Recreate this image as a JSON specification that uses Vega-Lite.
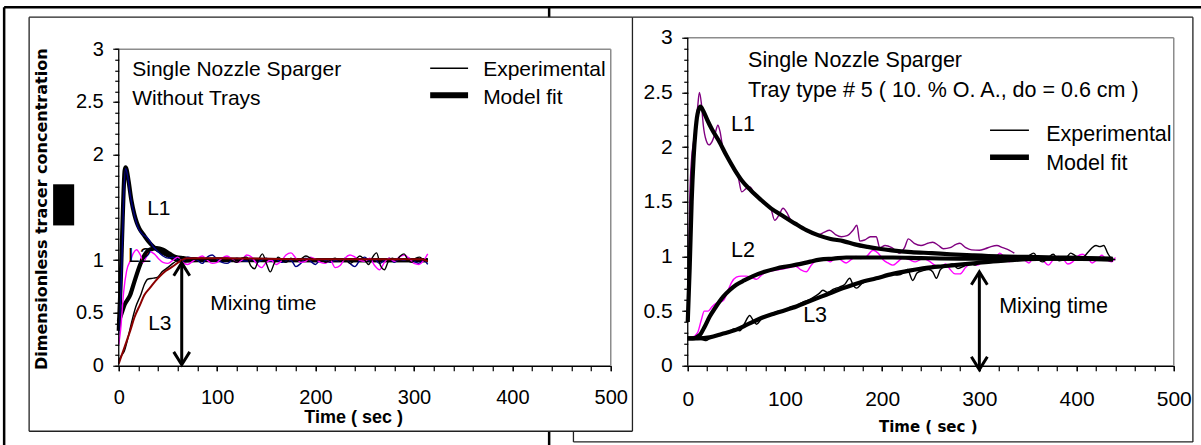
{
"$schema": "https://vega.github.io/schema/vega-lite/v6.json",
"autosize": {"type": "pad"},
"padding": {"left": 2.75, "top": 5.75, "right": 0, "bottom": 0},
"background": "white",
"bounds": "flush",
"spacing": 77,
"config": {
  "view": {"stroke": null},
  "font": "Liberation Sans",
  "axis": {"grid": false, "domainColor": "black", "tickColor": "black", "labelColor": "black", "titleColor": "black", "labelFont": "Liberation Sans", "titleFont": "Liberation Sans", "labelFlush": false, "labelOverlap": false, "tickWidth": 1.2, "domainWidth": 1.3}
},
"datasets": {
  "leftExp": [
    {"t":0,"c":0.3,"s":"a1e"},{"t":3,"c":0.9,"s":"a1e"},{"t":5,"c":1.6,"s":"a1e"},{"t":7,"c":1.87,"s":"a1e"},{"t":9,"c":1.8,"s":"a1e"},{"t":12,"c":1.6,"s":"a1e"},{"t":16,"c":1.42,"s":"a1e"},{"t":20,"c":1.3,"s":"a1e"},{"t":25,"c":1.24,"s":"a1e"},{"t":28,"c":1.22,"s":"a1e"},{"t":31,"c":1.19,"s":"a1e"},{"t":35,"c":1.13,"s":"a1e"},{"t":40,"c":1.08,"s":"a1e"},{"t":45,"c":1.04,"s":"a1e"},{"t":50,"c":1.02,"s":"a1e"},{"t":55,"c":1.03,"s":"a1e"},{"t":60,"c":1.0,"s":"a1e"},{"t":65,"c":0.99,"s":"a1e"},{"t":70,"c":1.03,"s":"a1e"},{"t":75,"c":1.02,"s":"a1e"},{"t":80,"c":1.0,"s":"a1e"},{"t":85,"c":0.97,"s":"a1e"},{"t":90,"c":1.03,"s":"a1e"},{"t":95,"c":1.05,"s":"a1e"},{"t":100,"c":1.01,"s":"a1e"},{"t":105,"c":0.98,"s":"a1e"},{"t":110,"c":0.97,"s":"a1e"},{"t":115,"c":1.0,"s":"a1e"},{"t":120,"c":1.02,"s":"a1e"},{"t":125,"c":1.0,"s":"a1e"},{"t":130,"c":0.99,"s":"a1e"},{"t":135,"c":1.01,"s":"a1e"},{"t":140,"c":0.98,"s":"a1e"},{"t":145,"c":1.0,"s":"a1e"},{"t":150,"c":1.02,"s":"a1e"},{"t":155,"c":0.99,"s":"a1e"},{"t":160,"c":1.01,"s":"a1e"},{"t":165,"c":0.98,"s":"a1e"},{"t":170,"c":0.99,"s":"a1e"},{"t":175,"c":1.0,"s":"a1e"},{"t":180,"c":0.94,"s":"a1e"},{"t":185,"c":0.97,"s":"a1e"},{"t":190,"c":1.02,"s":"a1e"},{"t":195,"c":0.99,"s":"a1e"},{"t":200,"c":0.96,"s":"a1e"},{"t":205,"c":1.01,"s":"a1e"},{"t":210,"c":1.0,"s":"a1e"},{"t":215,"c":0.98,"s":"a1e"},{"t":220,"c":1.0,"s":"a1e"},{"t":225,"c":0.99,"s":"a1e"},{"t":230,"c":1.02,"s":"a1e"},{"t":235,"c":0.97,"s":"a1e"},{"t":240,"c":0.94,"s":"a1e"},{"t":245,"c":1.0,"s":"a1e"},{"t":250,"c":1.03,"s":"a1e"},{"t":255,"c":0.99,"s":"a1e"},{"t":260,"c":1.01,"s":"a1e"},{"t":265,"c":0.97,"s":"a1e"},{"t":270,"c":1.0,"s":"a1e"},{"t":275,"c":1.02,"s":"a1e"},{"t":280,"c":0.98,"s":"a1e"},{"t":285,"c":1.01,"s":"a1e"},{"t":290,"c":1.0,"s":"a1e"},{"t":295,"c":1.02,"s":"a1e"},{"t":300,"c":0.99,"s":"a1e"},{"t":305,"c":0.97,"s":"a1e"},{"t":310,"c":1.0,"s":"a1e"},{"t":314,"c":0.96,"s":"a1e"},
    {"t":0,"c":0.2,"s":"a2e"},{"t":2,"c":0.35,"s":"a2e"},{"t":5,"c":0.7,"s":"a2e"},{"t":8,"c":0.9,"s":"a2e"},{"t":12,"c":1.0,"s":"a2e"},{"t":15,"c":1.07,"s":"a2e"},{"t":18,"c":1.1,"s":"a2e"},{"t":22,"c":1.05,"s":"a2e"},{"t":25,"c":0.98,"s":"a2e"},{"t":28,"c":1.03,"s":"a2e"},{"t":32,"c":1.08,"s":"a2e"},{"t":36,"c":1.06,"s":"a2e"},{"t":40,"c":1.02,"s":"a2e"},{"t":45,"c":0.98,"s":"a2e"},{"t":50,"c":0.97,"s":"a2e"},{"t":55,"c":1.0,"s":"a2e"},{"t":60,"c":1.03,"s":"a2e"},{"t":65,"c":0.98,"s":"a2e"},{"t":70,"c":0.96,"s":"a2e"},{"t":75,"c":0.99,"s":"a2e"},{"t":80,"c":1.02,"s":"a2e"},{"t":85,"c":1.04,"s":"a2e"},{"t":90,"c":1.0,"s":"a2e"},{"t":95,"c":0.97,"s":"a2e"},{"t":100,"c":0.98,"s":"a2e"},{"t":105,"c":1.02,"s":"a2e"},{"t":110,"c":1.04,"s":"a2e"},{"t":115,"c":1.01,"s":"a2e"},{"t":120,"c":0.98,"s":"a2e"},{"t":125,"c":1.0,"s":"a2e"},{"t":130,"c":1.05,"s":"a2e"},{"t":135,"c":1.03,"s":"a2e"},{"t":140,"c":0.97,"s":"a2e"},{"t":145,"c":0.93,"s":"a2e"},{"t":150,"c":0.98,"s":"a2e"},{"t":155,"c":1.0,"s":"a2e"},{"t":160,"c":0.96,"s":"a2e"},{"t":165,"c":0.99,"s":"a2e"},{"t":170,"c":1.05,"s":"a2e"},{"t":175,"c":1.07,"s":"a2e"},{"t":180,"c":1.02,"s":"a2e"},{"t":185,"c":0.98,"s":"a2e"},{"t":190,"c":0.99,"s":"a2e"},{"t":195,"c":1.03,"s":"a2e"},{"t":200,"c":1.01,"s":"a2e"},{"t":205,"c":0.98,"s":"a2e"},{"t":210,"c":0.97,"s":"a2e"},{"t":215,"c":1.0,"s":"a2e"},{"t":220,"c":0.93,"s":"a2e"},{"t":225,"c":0.95,"s":"a2e"},{"t":230,"c":1.02,"s":"a2e"},{"t":235,"c":1.05,"s":"a2e"},{"t":240,"c":1.03,"s":"a2e"},{"t":245,"c":1.0,"s":"a2e"},{"t":250,"c":0.99,"s":"a2e"},{"t":255,"c":1.02,"s":"a2e"},{"t":260,"c":0.95,"s":"a2e"},{"t":265,"c":0.91,"s":"a2e"},{"t":270,"c":0.98,"s":"a2e"},{"t":275,"c":1.02,"s":"a2e"},{"t":280,"c":0.99,"s":"a2e"},{"t":285,"c":1.03,"s":"a2e"},{"t":290,"c":1.05,"s":"a2e"},{"t":295,"c":1.02,"s":"a2e"},{"t":300,"c":0.97,"s":"a2e"},{"t":305,"c":0.96,"s":"a2e"},{"t":310,"c":1.0,"s":"a2e"},{"t":314,"c":1.06,"s":"a2e"},
    {"t":0,"c":0.05,"s":"a3e"},{"t":3,"c":0.1,"s":"a3e"},{"t":5.7,"c":0.14,"s":"a3e"},{"t":9,"c":0.25,"s":"a3e"},{"t":12.5,"c":0.39,"s":"a3e"},{"t":17,"c":0.55,"s":"a3e"},{"t":22.7,"c":0.68,"s":"a3e"},{"t":26,"c":0.77,"s":"a3e"},{"t":29.4,"c":0.82,"s":"a3e"},{"t":35,"c":0.83,"s":"a3e"},{"t":39.6,"c":0.84,"s":"a3e"},{"t":44,"c":0.89,"s":"a3e"},{"t":49.7,"c":0.93,"s":"a3e"},{"t":55,"c":0.97,"s":"a3e"},{"t":60,"c":1.0,"s":"a3e"},{"t":65,"c":1.02,"s":"a3e"},{"t":70,"c":1.01,"s":"a3e"},{"t":80,"c":1.01,"s":"a3e"},{"t":90,"c":1.01,"s":"a3e"},{"t":100,"c":1.02,"s":"a3e"},{"t":110,"c":1.02,"s":"a3e"},{"t":115,"c":1.0,"s":"a3e"},{"t":120,"c":0.98,"s":"a3e"},{"t":125,"c":1.02,"s":"a3e"},{"t":130,"c":1.03,"s":"a3e"},{"t":134,"c":0.95,"s":"a3e"},{"t":138,"c":0.92,"s":"a3e"},{"t":142,"c":1.0,"s":"a3e"},{"t":146,"c":1.06,"s":"a3e"},{"t":150,"c":0.97,"s":"a3e"},{"t":154,"c":0.89,"s":"a3e"},{"t":158,"c":0.97,"s":"a3e"},{"t":162,"c":1.03,"s":"a3e"},{"t":166,"c":1.0,"s":"a3e"},{"t":170,"c":0.98,"s":"a3e"},{"t":175,"c":1.02,"s":"a3e"},{"t":180,"c":0.99,"s":"a3e"},{"t":185,"c":1.01,"s":"a3e"},{"t":190,"c":1.04,"s":"a3e"},{"t":195,"c":1.02,"s":"a3e"},{"t":200,"c":1.0,"s":"a3e"},{"t":205,"c":1.01,"s":"a3e"},{"t":210,"c":0.98,"s":"a3e"},{"t":215,"c":1.0,"s":"a3e"},{"t":220,"c":1.02,"s":"a3e"},{"t":225,"c":0.99,"s":"a3e"},{"t":230,"c":1.01,"s":"a3e"},{"t":235,"c":0.97,"s":"a3e"},{"t":240,"c":1.0,"s":"a3e"},{"t":245,"c":1.04,"s":"a3e"},{"t":250,"c":1.0,"s":"a3e"},{"t":254,"c":0.96,"s":"a3e"},{"t":258,"c":1.03,"s":"a3e"},{"t":262,"c":1.07,"s":"a3e"},{"t":266,"c":0.95,"s":"a3e"},{"t":270,"c":0.91,"s":"a3e"},{"t":274,"c":0.99,"s":"a3e"},{"t":278,"c":1.02,"s":"a3e"},{"t":282,"c":1.0,"s":"a3e"},{"t":286,"c":1.04,"s":"a3e"},{"t":290,"c":1.06,"s":"a3e"},{"t":294,"c":1.0,"s":"a3e"},{"t":298,"c":0.98,"s":"a3e"},{"t":302,"c":1.02,"s":"a3e"},{"t":306,"c":1.03,"s":"a3e"},{"t":310,"c":1.0,"s":"a3e"},{"t":314,"c":1.01,"s":"a3e"}
  ],
  "leftModel": [
    {"t":0,"c":0.33,"s":"a1m"},{"t":2,"c":0.8,"s":"a1m"},{"t":4,"c":1.4,"s":"a1m"},{"t":6,"c":1.85,"s":"a1m"},{"t":7,"c":1.88,"s":"a1m"},{"t":8,"c":1.86,"s":"a1m"},{"t":10,"c":1.75,"s":"a1m"},{"t":13,"c":1.56,"s":"a1m"},{"t":16,"c":1.43,"s":"a1m"},{"t":18.4,"c":1.355,"s":"a1m"},{"t":21,"c":1.3,"s":"a1m"},{"t":25,"c":1.245,"s":"a1m"},{"t":30,"c":1.18,"s":"a1m"},{"t":35,"c":1.13,"s":"a1m"},{"t":40,"c":1.095,"s":"a1m"},{"t":45,"c":1.07,"s":"a1m"},{"t":50,"c":1.045,"s":"a1m"},{"t":55,"c":1.02,"s":"a1m"},{"t":59,"c":1.005,"s":"a1m"},{"t":65,"c":0.995,"s":"a1m"},{"t":80,"c":1.0,"s":"a1m"},{"t":100,"c":1.0,"s":"a1m"},{"t":150,"c":1.0,"s":"a1m"},{"t":200,"c":1.0,"s":"a1m"},{"t":250,"c":1.0,"s":"a1m"},{"t":300,"c":1.0,"s":"a1m"},{"t":314,"c":1.0,"s":"a1m"},
    {"t":0,"c":0.42,"s":"a2m"},{"t":3,"c":0.5,"s":"a2m"},{"t":6,"c":0.58,"s":"a2m"},{"t":11.6,"c":0.67,"s":"a2m"},{"t":16,"c":0.8,"s":"a2m"},{"t":21.7,"c":0.957,"s":"a2m"},{"t":25,"c":1.03,"s":"a2m"},{"t":28.5,"c":1.08,"s":"a2m"},{"t":33,"c":1.105,"s":"a2m"},{"t":38.7,"c":1.115,"s":"a2m"},{"t":45,"c":1.1,"s":"a2m"},{"t":52,"c":1.06,"s":"a2m"},{"t":58,"c":1.03,"s":"a2m"},{"t":65.7,"c":1.02,"s":"a2m"},{"t":75,"c":1.01,"s":"a2m"},{"t":100,"c":1.005,"s":"a2m"},{"t":200,"c":1.0,"s":"a2m"},{"t":314,"c":1.0,"s":"a2m"}
  ],
  "leftRed": [
    {"t":0,"c":0.02,"s":"a3m"},{"t":3,"c":0.1,"s":"a3m"},{"t":6,"c":0.18,"s":"a3m"},{"t":11.6,"c":0.33,"s":"a3m"},{"t":16,"c":0.46,"s":"a3m"},{"t":21.7,"c":0.58,"s":"a3m"},{"t":26,"c":0.67,"s":"a3m"},{"t":31.9,"c":0.74,"s":"a3m"},{"t":37,"c":0.8,"s":"a3m"},{"t":42,"c":0.85,"s":"a3m"},{"t":48,"c":0.9,"s":"a3m"},{"t":55.5,"c":0.945,"s":"a3m"},{"t":62,"c":0.99,"s":"a3m"},{"t":69,"c":1.02,"s":"a3m"},{"t":80,"c":1.02,"s":"a3m"},{"t":100,"c":1.02,"s":"a3m"},{"t":150,"c":1.015,"s":"a3m"},{"t":200,"c":1.01,"s":"a3m"},{"t":250,"c":1.01,"s":"a3m"},{"t":300,"c":1.01,"s":"a3m"},{"t":308,"c":1.01,"s":"a3m"},{"t":314,"c":0.99,"s":"a3m"}
  ],
  "rightExp": [
    {"t":0,"c":0.4,"s":"b1e"},{"t":1,"c":0.9,"s":"b1e"},{"t":2,"c":1.5,"s":"b1e"},{"t":4,"c":1.9,"s":"b1e"},{"t":6,"c":2.05,"s":"b1e"},{"t":8,"c":2.2,"s":"b1e"},{"t":10,"c":2.35,"s":"b1e"},{"t":12,"c":2.5,"s":"b1e"},{"t":14,"c":2.4,"s":"b1e"},{"t":16,"c":2.2,"s":"b1e"},{"t":19,"c":2.06,"s":"b1e"},{"t":22,"c":2.02,"s":"b1e"},{"t":25,"c":2.05,"s":"b1e"},{"t":28,"c":2.12,"s":"b1e"},{"t":31,"c":2.2,"s":"b1e"},{"t":33,"c":2.15,"s":"b1e"},{"t":36,"c":2.0,"s":"b1e"},{"t":40,"c":1.92,"s":"b1e"},{"t":44,"c":1.86,"s":"b1e"},{"t":48,"c":1.8,"s":"b1e"},{"t":52,"c":1.72,"s":"b1e"},{"t":55.5,"c":1.59,"s":"b1e"},{"t":60,"c":1.62,"s":"b1e"},{"t":64,"c":1.635,"s":"b1e"},{"t":68,"c":1.58,"s":"b1e"},{"t":72,"c":1.54,"s":"b1e"},{"t":76,"c":1.52,"s":"b1e"},{"t":80,"c":1.48,"s":"b1e"},{"t":85,"c":1.45,"s":"b1e"},{"t":89.5,"c":1.33,"s":"b1e"},{"t":94,"c":1.38,"s":"b1e"},{"t":98,"c":1.44,"s":"b1e"},{"t":102,"c":1.4,"s":"b1e"},{"t":106,"c":1.33,"s":"b1e"},{"t":110,"c":1.3,"s":"b1e"},{"t":115,"c":1.28,"s":"b1e"},{"t":120,"c":1.25,"s":"b1e"},{"t":125,"c":1.22,"s":"b1e"},{"t":130,"c":1.2,"s":"b1e"},{"t":135,"c":1.2,"s":"b1e"},{"t":140,"c":1.22,"s":"b1e"},{"t":146,"c":1.24,"s":"b1e"},{"t":152,"c":1.2,"s":"b1e"},{"t":158,"c":1.18,"s":"b1e"},{"t":164,"c":1.19,"s":"b1e"},{"t":170,"c":1.24,"s":"b1e"},{"t":174,"c":1.285,"s":"b1e"},{"t":177,"c":1.14,"s":"b1e"},{"t":182,"c":1.15,"s":"b1e"},{"t":188,"c":1.18,"s":"b1e"},{"t":194,"c":1.18,"s":"b1e"},{"t":197.5,"c":1.08,"s":"b1e"},{"t":203,"c":1.1,"s":"b1e"},{"t":210,"c":1.08,"s":"b1e"},{"t":218,"c":1.03,"s":"b1e"},{"t":223,"c":1.08,"s":"b1e"},{"t":227,"c":1.16,"s":"b1e"},{"t":233,"c":1.12,"s":"b1e"},{"t":240,"c":1.1,"s":"b1e"},{"t":247,"c":1.12,"s":"b1e"},{"t":252,"c":1.13,"s":"b1e"},{"t":258,"c":1.1,"s":"b1e"},{"t":263,"c":1.07,"s":"b1e"},{"t":270,"c":1.08,"s":"b1e"},{"t":276,"c":1.11,"s":"b1e"},{"t":280,"c":1.12,"s":"b1e"},{"t":286,"c":1.08,"s":"b1e"},{"t":292,"c":1.06,"s":"b1e"},{"t":300,"c":1.056,"s":"b1e"},{"t":306,"c":1.07,"s":"b1e"},{"t":312,"c":1.09,"s":"b1e"},{"t":318,"c":1.1,"s":"b1e"},{"t":324,"c":1.08,"s":"b1e"},{"t":331,"c":1.056,"s":"b1e"},{"t":336,"c":1.03,"s":"b1e"},
    {"t":0,"c":0.25,"s":"b2e"},{"t":5,"c":0.26,"s":"b2e"},{"t":10,"c":0.3,"s":"b2e"},{"t":14,"c":0.42,"s":"b2e"},{"t":17,"c":0.5,"s":"b2e"},{"t":21,"c":0.5,"s":"b2e"},{"t":25,"c":0.54,"s":"b2e"},{"t":29,"c":0.57,"s":"b2e"},{"t":33,"c":0.58,"s":"b2e"},{"t":37,"c":0.6,"s":"b2e"},{"t":41,"c":0.68,"s":"b2e"},{"t":45,"c":0.76,"s":"b2e"},{"t":50,"c":0.81,"s":"b2e"},{"t":55,"c":0.82,"s":"b2e"},{"t":60,"c":0.82,"s":"b2e"},{"t":65,"c":0.81,"s":"b2e"},{"t":70.7,"c":0.79,"s":"b2e"},{"t":76,"c":0.83,"s":"b2e"},{"t":81,"c":0.86,"s":"b2e"},{"t":88,"c":0.87,"s":"b2e"},{"t":94,"c":0.88,"s":"b2e"},{"t":100,"c":0.89,"s":"b2e"},{"t":106,"c":0.9,"s":"b2e"},{"t":111,"c":0.91,"s":"b2e"},{"t":116,"c":0.88,"s":"b2e"},{"t":122,"c":0.86,"s":"b2e"},{"t":127,"c":0.92,"s":"b2e"},{"t":132,"c":0.96,"s":"b2e"},{"t":137,"c":0.98,"s":"b2e"},{"t":142,"c":0.97,"s":"b2e"},{"t":147,"c":0.95,"s":"b2e"},{"t":152,"c":0.99,"s":"b2e"},{"t":157,"c":0.97,"s":"b2e"},{"t":163,"c":0.94,"s":"b2e"},{"t":168,"c":0.97,"s":"b2e"},{"t":173,"c":1.0,"s":"b2e"},{"t":178,"c":0.98,"s":"b2e"},{"t":184,"c":1.0,"s":"b2e"},{"t":190.6,"c":1.056,"s":"b2e"},{"t":196,"c":1.03,"s":"b2e"},{"t":201,"c":0.97,"s":"b2e"},{"t":206,"c":0.94,"s":"b2e"},{"t":211,"c":0.92,"s":"b2e"},{"t":216,"c":0.95,"s":"b2e"},{"t":222,"c":0.99,"s":"b2e"},{"t":228,"c":0.97,"s":"b2e"},{"t":234,"c":0.95,"s":"b2e"},{"t":242,"c":0.98,"s":"b2e"},{"t":248,"c":0.96,"s":"b2e"},{"t":254,"c":0.92,"s":"b2e"},{"t":260,"c":0.9,"s":"b2e"},{"t":265,"c":0.93,"s":"b2e"},{"t":270,"c":0.88,"s":"b2e"},{"t":275,"c":0.84,"s":"b2e"},{"t":280,"c":0.84,"s":"b2e"},{"t":286,"c":0.9,"s":"b2e"},{"t":292,"c":0.94,"s":"b2e"},{"t":298,"c":0.92,"s":"b2e"},{"t":304,"c":0.96,"s":"b2e"},{"t":310,"c":0.99,"s":"b2e"},{"t":315,"c":0.97,"s":"b2e"},{"t":321,"c":1.03,"s":"b2e"},{"t":326,"c":0.99,"s":"b2e"},{"t":331,"c":0.95,"s":"b2e"},{"t":336,"c":0.98,"s":"b2e"},{"t":341,"c":1.0,"s":"b2e"},{"t":346,"c":0.97,"s":"b2e"},{"t":351,"c":0.94,"s":"b2e"},{"t":356,"c":0.99,"s":"b2e"},{"t":361,"c":1.0,"s":"b2e"},{"t":366,"c":0.96,"s":"b2e"},{"t":371,"c":0.92,"s":"b2e"},{"t":376,"c":0.97,"s":"b2e"},{"t":381,"c":1.0,"s":"b2e"},{"t":386,"c":0.98,"s":"b2e"},{"t":391,"c":0.93,"s":"b2e"},{"t":396,"c":0.95,"s":"b2e"},{"t":401,"c":1.0,"s":"b2e"},{"t":406,"c":1.02,"s":"b2e"},{"t":411,"c":0.99,"s":"b2e"},{"t":416,"c":0.94,"s":"b2e"},{"t":421,"c":0.97,"s":"b2e"},{"t":426,"c":1.01,"s":"b2e"},{"t":431,"c":0.97,"s":"b2e"},{"t":436,"c":0.95,"s":"b2e"},{"t":440,"c":0.99,"s":"b2e"},
    {"t":0,"c":0.25,"s":"b3e"},{"t":5,"c":0.26,"s":"b3e"},{"t":10,"c":0.25,"s":"b3e"},{"t":15,"c":0.24,"s":"b3e"},{"t":19,"c":0.23,"s":"b3e"},{"t":24,"c":0.26,"s":"b3e"},{"t":30,"c":0.28,"s":"b3e"},{"t":36,"c":0.29,"s":"b3e"},{"t":42,"c":0.31,"s":"b3e"},{"t":48,"c":0.34,"s":"b3e"},{"t":53.5,"c":0.32,"s":"b3e"},{"t":58,"c":0.38,"s":"b3e"},{"t":63.8,"c":0.46,"s":"b3e"},{"t":67,"c":0.42,"s":"b3e"},{"t":70.7,"c":0.38,"s":"b3e"},{"t":76,"c":0.43,"s":"b3e"},{"t":82,"c":0.46,"s":"b3e"},{"t":88,"c":0.48,"s":"b3e"},{"t":94,"c":0.5,"s":"b3e"},{"t":100,"c":0.5,"s":"b3e"},{"t":106,"c":0.54,"s":"b3e"},{"t":112,"c":0.55,"s":"b3e"},{"t":118,"c":0.58,"s":"b3e"},{"t":124,"c":0.6,"s":"b3e"},{"t":130,"c":0.63,"s":"b3e"},{"t":135,"c":0.66,"s":"b3e"},{"t":139,"c":0.69,"s":"b3e"},{"t":144,"c":0.67,"s":"b3e"},{"t":150,"c":0.7,"s":"b3e"},{"t":156,"c":0.72,"s":"b3e"},{"t":161,"c":0.74,"s":"b3e"},{"t":166.7,"c":0.8,"s":"b3e"},{"t":170,"c":0.74,"s":"b3e"},{"t":173.6,"c":0.71,"s":"b3e"},{"t":179,"c":0.75,"s":"b3e"},{"t":185,"c":0.78,"s":"b3e"},{"t":191,"c":0.79,"s":"b3e"},{"t":197,"c":0.8,"s":"b3e"},{"t":203,"c":0.82,"s":"b3e"},{"t":210,"c":0.84,"s":"b3e"},{"t":216,"c":0.83,"s":"b3e"},{"t":222,"c":0.85,"s":"b3e"},{"t":226,"c":0.88,"s":"b3e"},{"t":231.5,"c":0.78,"s":"b3e"},{"t":236,"c":0.85,"s":"b3e"},{"t":242,"c":0.87,"s":"b3e"},{"t":248,"c":0.88,"s":"b3e"},{"t":252,"c":0.86,"s":"b3e"},{"t":255.8,"c":0.8,"s":"b3e"},{"t":260,"c":0.88,"s":"b3e"},{"t":266,"c":0.91,"s":"b3e"},{"t":272,"c":0.93,"s":"b3e"},{"t":278,"c":0.89,"s":"b3e"},{"t":284,"c":0.91,"s":"b3e"},{"t":290,"c":0.94,"s":"b3e"},{"t":296,"c":0.92,"s":"b3e"},{"t":302,"c":0.95,"s":"b3e"},{"t":308,"c":0.94,"s":"b3e"},{"t":314,"c":0.96,"s":"b3e"},{"t":320,"c":0.97,"s":"b3e"},{"t":326,"c":0.98,"s":"b3e"},{"t":332,"c":0.96,"s":"b3e"},{"t":338,"c":0.98,"s":"b3e"},{"t":344,"c":0.97,"s":"b3e"},{"t":350,"c":1.0,"s":"b3e"},{"t":356,"c":1.03,"s":"b3e"},{"t":360,"c":0.98,"s":"b3e"},{"t":365,"c":0.95,"s":"b3e"},{"t":370,"c":0.98,"s":"b3e"},{"t":376,"c":1.02,"s":"b3e"},{"t":382,"c":0.96,"s":"b3e"},{"t":388,"c":0.97,"s":"b3e"},{"t":394,"c":1.03,"s":"b3e"},{"t":400,"c":1.0,"s":"b3e"},{"t":406,"c":0.99,"s":"b3e"},{"t":412,"c":1.04,"s":"b3e"},{"t":416,"c":1.08,"s":"b3e"},{"t":420,"c":1.1,"s":"b3e"},{"t":424,"c":1.09,"s":"b3e"},{"t":428,"c":1.1,"s":"b3e"},{"t":432,"c":1.03,"s":"b3e"},{"t":436,"c":0.98,"s":"b3e"},{"t":440,"c":0.97,"s":"b3e"}
  ],
  "rightModel": [
    {"t":0,"c":0.4,"s":"b1m"},{"t":2,"c":0.9,"s":"b1m"},{"t":4,"c":1.5,"s":"b1m"},{"t":6,"c":1.9,"s":"b1m"},{"t":8,"c":2.15,"s":"b1m"},{"t":10,"c":2.3,"s":"b1m"},{"t":13,"c":2.37,"s":"b1m"},{"t":16,"c":2.33,"s":"b1m"},{"t":20,"c":2.25,"s":"b1m"},{"t":25,"c":2.16,"s":"b1m"},{"t":31.8,"c":2.06,"s":"b1m"},{"t":40,"c":1.92,"s":"b1m"},{"t":48.4,"c":1.79,"s":"b1m"},{"t":56,"c":1.69,"s":"b1m"},{"t":64.8,"c":1.605,"s":"b1m"},{"t":75,"c":1.52,"s":"b1m"},{"t":85.6,"c":1.44,"s":"b1m"},{"t":98,"c":1.37,"s":"b1m"},{"t":110.5,"c":1.3,"s":"b1m"},{"t":122,"c":1.24,"s":"b1m"},{"t":135.3,"c":1.19,"s":"b1m"},{"t":147,"c":1.16,"s":"b1m"},{"t":160,"c":1.14,"s":"b1m"},{"t":172,"c":1.11,"s":"b1m"},{"t":185,"c":1.087,"s":"b1m"},{"t":197,"c":1.07,"s":"b1m"},{"t":209.8,"c":1.056,"s":"b1m"},{"t":230,"c":1.04,"s":"b1m"},{"t":251,"c":1.03,"s":"b1m"},{"t":270,"c":1.02,"s":"b1m"},{"t":292.6,"c":1.01,"s":"b1m"},{"t":320,"c":1.0,"s":"b1m"},{"t":350,"c":0.995,"s":"b1m"},{"t":380,"c":0.99,"s":"b1m"},{"t":410,"c":0.985,"s":"b1m"},{"t":437,"c":0.98,"s":"b1m"},
    {"t":0,"c":0.25,"s":"b2m"},{"t":5,"c":0.25,"s":"b2m"},{"t":12.3,"c":0.28,"s":"b2m"},{"t":17,"c":0.35,"s":"b2m"},{"t":22.6,"c":0.45,"s":"b2m"},{"t":29,"c":0.54,"s":"b2m"},{"t":36.3,"c":0.63,"s":"b2m"},{"t":43,"c":0.69,"s":"b2m"},{"t":50,"c":0.74,"s":"b2m"},{"t":58,"c":0.78,"s":"b2m"},{"t":67.2,"c":0.82,"s":"b2m"},{"t":79,"c":0.86,"s":"b2m"},{"t":91.3,"c":0.89,"s":"b2m"},{"t":103,"c":0.91,"s":"b2m"},{"t":115,"c":0.93,"s":"b2m"},{"t":125,"c":0.95,"s":"b2m"},{"t":135.8,"c":0.97,"s":"b2m"},{"t":150,"c":0.98,"s":"b2m"},{"t":163,"c":0.99,"s":"b2m"},{"t":190,"c":0.99,"s":"b2m"},{"t":211,"c":0.99,"s":"b2m"},{"t":240,"c":0.985,"s":"b2m"},{"t":280,"c":0.98,"s":"b2m"},{"t":330,"c":0.98,"s":"b2m"},{"t":380,"c":0.98,"s":"b2m"},{"t":437,"c":0.975,"s":"b2m"},
    {"t":0,"c":0.25,"s":"b3m"},{"t":10,"c":0.25,"s":"b3m"},{"t":22.6,"c":0.26,"s":"b3m"},{"t":35,"c":0.29,"s":"b3m"},{"t":50,"c":0.33,"s":"b3m"},{"t":62,"c":0.38,"s":"b3m"},{"t":74,"c":0.43,"s":"b3m"},{"t":90,"c":0.48,"s":"b3m"},{"t":108,"c":0.53,"s":"b3m"},{"t":125,"c":0.59,"s":"b3m"},{"t":142.5,"c":0.65,"s":"b3m"},{"t":160,"c":0.71,"s":"b3m"},{"t":176.6,"c":0.76,"s":"b3m"},{"t":194,"c":0.8,"s":"b3m"},{"t":211,"c":0.84,"s":"b3m"},{"t":228,"c":0.87,"s":"b3m"},{"t":245.6,"c":0.895,"s":"b3m"},{"t":262,"c":0.91,"s":"b3m"},{"t":280,"c":0.925,"s":"b3m"},{"t":297,"c":0.94,"s":"b3m"},{"t":314,"c":0.955,"s":"b3m"},{"t":331,"c":0.965,"s":"b3m"},{"t":348.6,"c":0.975,"s":"b3m"},{"t":370,"c":0.98,"s":"b3m"},{"t":400,"c":0.98,"s":"b3m"},{"t":437.6,"c":0.97,"s":"b3m"}
  ]
},
"hconcat": [
{
  "width": 492, "height": 328,
  "resolve": {"axis": {"x": "independent", "y": "independent"}},
  "layer": [
    {
      "data": {"name": "leftModel"},
      "mark": {"type": "line", "strokeWidth": 4.2, "interpolate": "monotone"},
      "encoding": {
        "x": {"field": "t", "type": "quantitative", "scale": {"domain": [0, 500], "nice": false},
              "axis": {"orient": "bottom", "values": [0,20,40,60,80,100,120,140,160,180,200,220,240,260,280,300,320,340,360,380,400,420,440,460,480,500], "labels": false, "domain": false, "tickSize": 5, "title": null}},
        "y": {"field": "c", "type": "quantitative", "scale": {"domain": [0, 3.109], "nice": false, "zero": false},
              "axis": {"orient": "left", "values": [0,0.1,0.2,0.3,0.4,0.5,0.6,0.7,0.8,0.9,1,1.1,1.2,1.3,1.4,1.5,1.6,1.7,1.8,1.9,2,2.1,2.2,2.3,2.4,2.5,2.6,2.7,2.8,2.9,3], "labels": false, "domain": false, "tickSize": 4, "title": null}},
        "color": {"field": "s", "type": "nominal", "legend": null,
                  "scale": {"domain": ["a1e","a2e","a3e","a1m","a2m","a3m","b1e","b2e","b3e","b1m","b2m","b3m"], "range": ["#000080","#ff00ff","#000000","#000000","#000000","#8b0000","#800080","#ff00ff","#000000","#000000","#000000","#000000"]}}
      }
    },
    {
      "data": {"name": "leftExp"},
      "mark": {"type": "line", "strokeWidth": 1.4, "interpolate": "monotone"},
      "encoding": {
        "x": {"field": "t", "type": "quantitative", "scale": {"domain": [0, 500], "nice": false},
              "axis": {"orient": "bottom", "values": [0,100,200,300,400,500], "tickSize": 5, "labelFontSize": 20, "labelPadding": 17,
                       "title": "Time ( sec )", "titleFontSize": 18, "titleFontWeight": "bold", "titleX": 234.4, "titleY": 51.5, "titleBaseline": "middle", "titleAlign": "center"}},
        "y": {"field": "c", "type": "quantitative", "scale": {"domain": [0, 3.109], "nice": false, "zero": false},
              "axis": {"orient": "left", "values": [0,0.5,1,2,2.5,3], "format": "~g", "domain": false, "tickSize": 6, "labelFontSize": 20, "labelPadding": 9.5,
                       "title": "Dimensionless tracer concentration", "titleFont": "DejaVu Sans", "titleFontSize": 16, "titleFontWeight": "bold", "titleAngle": 270, "titleX": -77.6, "titleY": 171, "titleAlign": "center", "titleBaseline": "middle"}},
        "color": {"field": "s", "type": "nominal", "legend": null,
                  "scale": {"domain": ["a1e","a2e","a3e","a1m","a2m","a3m","b1e","b2e","b3e","b1m","b2m","b3m"], "range": ["#000080","#ff00ff","#000000","#000000","#000000","#8b0000","#800080","#ff00ff","#000000","#000000","#000000","#000000"]}}
      }
    },
    {
      "data": {"name": "leftRed"},
      "mark": {"type": "line", "strokeWidth": 2, "interpolate": "monotone", "color": "#8b0000"},
      "encoding": {
        "x": {"field": "t", "type": "quantitative", "scale": {"domain": [0, 500], "nice": false}, "axis": null},
        "y": {"field": "c", "type": "quantitative", "scale": {"domain": [0, 3.109], "nice": false, "zero": false}, "axis": null}
      }
    },
    {
      "data": {"values": [{"a": 0, "b": 500, "y": 3, "y2": 3}, {"a": 500, "b": 500, "y": 0, "y2": 3}]},
      "mark": {"type": "rule", "color": "#8c8c8c", "strokeWidth": 1.5},
      "encoding": {
        "x": {"field": "a", "type": "quantitative", "scale": {"domain": [0, 500], "nice": false}, "axis": null},
        "x2": {"field": "b"},
        "y": {"field": "y", "type": "quantitative", "scale": {"domain": [0, 3.109], "nice": false, "zero": false}, "axis": null},
        "y2": {"field": "y2"}
      }
    },
    {
      "data": {"values": [{"a": 0, "b": 0, "y": 0, "y2": 3}]},
      "mark": {"type": "rule", "color": "black", "strokeWidth": 1.3},
      "encoding": {
        "x": {"field": "a", "type": "quantitative", "scale": {"domain": [0, 500], "nice": false}, "axis": null},
        "x2": {"field": "b"},
        "y": {"field": "y", "type": "quantitative", "scale": {"domain": [0, 3.109], "nice": false, "zero": false}, "axis": null},
        "y2": {"field": "y2"}
      }
    },
    {
      "data": {"values": [
        {"t": 13.7, "c": 2.80, "label": "Single Nozzle Sparger"},
        {"t": 13.7, "c": 2.53, "label": "Without Trays"},
        {"t": 370.3, "c": 2.80, "label": "Experimental"},
        {"t": 370.3, "c": 2.535, "label": "Model fit"},
        {"t": 28.9, "c": 1.49, "label": "L1"},
        {"t": 9.5, "c": 1.04, "label": "L2"},
        {"t": 29.9, "c": 0.40, "label": "L3"},
        {"t": 92.9, "c": 0.59, "label": "Mixing time"}
      ]},
      "mark": {"type": "text", "align": "left", "baseline": "middle", "fontSize": 21, "font": "Liberation Sans", "color": "black"},
      "encoding": {
        "x": {"field": "t", "type": "quantitative", "scale": {"domain": [0, 500], "nice": false}, "axis": null},
        "y": {"field": "c", "type": "quantitative", "scale": {"domain": [0, 3.109], "nice": false, "zero": false}, "axis": null},
        "text": {"field": "label"}
      }
    },
    {
      "data": {"values": [{"t": 316.5, "t2": 355, "c": 2.82}]},
      "mark": {"type": "rule", "color": "black", "strokeWidth": 1.4},
      "encoding": {
        "x": {"field": "t", "type": "quantitative", "scale": {"domain": [0, 500], "nice": false}, "axis": null},
        "x2": {"field": "t2"},
        "y": {"field": "c", "type": "quantitative", "scale": {"domain": [0, 3.109], "nice": false, "zero": false}, "axis": null}
      }
    },
    {
      "data": {"values": [{"t": 316.5, "t2": 355, "c": 2.564}]},
      "mark": {"type": "rule", "color": "black", "strokeWidth": 6},
      "encoding": {
        "x": {"field": "t", "type": "quantitative", "scale": {"domain": [0, 500], "nice": false}, "axis": null},
        "x2": {"field": "t2"},
        "y": {"field": "c", "type": "quantitative", "scale": {"domain": [0, 3.109], "nice": false, "zero": false}, "axis": null}
      }
    },
    {
      "data": {"values": [{"t": 64, "lo": 0.02, "hi": 0.96}]},
      "mark": {"type": "rule", "color": "black", "strokeWidth": 3},
      "encoding": {
        "x": {"field": "t", "type": "quantitative", "scale": {"domain": [0, 500], "nice": false}, "axis": null},
        "y": {"field": "lo", "type": "quantitative", "scale": {"domain": [0, 3.109], "nice": false, "zero": false}, "axis": null},
        "y2": {"field": "hi"}
      }
    },
    {
      "data": {"values": [{"t": 64, "c": 0.01}]},
      "mark": {"type": "point", "shape": "M-1,-1.6L0,0L1,-1.6", "filled": false, "stroke": "black", "strokeWidth": 3, "size": 256, "opacity": 1},
      "encoding": {
        "x": {"field": "t", "type": "quantitative", "scale": {"domain": [0, 500], "nice": false}, "axis": null},
        "y": {"field": "c", "type": "quantitative", "scale": {"domain": [0, 3.109], "nice": false, "zero": false}, "axis": null}
      }
    },
    {
      "data": {"values": [{"t": 64, "c": 0.975}]},
      "mark": {"type": "point", "shape": "M-1,1.6L0,0L1,1.6", "filled": false, "stroke": "black", "strokeWidth": 3, "size": 256, "opacity": 1},
      "encoding": {
        "x": {"field": "t", "type": "quantitative", "scale": {"domain": [0, 500], "nice": false}, "axis": null},
        "y": {"field": "c", "type": "quantitative", "scale": {"domain": [0, 3.109], "nice": false, "zero": false}, "axis": null}
      }
    },
    {
      "data": {"values": [{"t": -66.7, "t2": -45.3, "c": 1.33, "c2": 1.72}]},
      "mark": {"type": "rect", "color": "black"},
      "encoding": {
        "x": {"field": "t", "type": "quantitative", "scale": {"domain": [0, 500], "nice": false}, "axis": null},
        "x2": {"field": "t2"},
        "y": {"field": "c", "type": "quantitative", "scale": {"domain": [0, 3.109], "nice": false, "zero": false}, "axis": null},
        "y2": {"field": "c2"}
      }
    }
  ]
},
{
  "width": 486, "height": 328,
  "resolve": {"axis": {"x": "independent", "y": "independent"}},
  "layer": [
    {
      "data": {"name": "rightExp"},
      "mark": {"type": "line", "strokeWidth": 1.4, "interpolate": "monotone"},
      "encoding": {
        "x": {"field": "t", "type": "quantitative", "scale": {"domain": [0, 500], "nice": false},
              "axis": {"orient": "bottom", "values": [0,100,200,300,400,500], "tickSize": 5, "labelFontSize": 21, "labelPadding": 18,
                       "title": "Time ( sec )", "titleFont": "DejaVu Sans", "titleFontSize": 15, "titleFontWeight": "bold", "titleX": 240, "titleY": 60.5, "titleBaseline": "middle", "titleAlign": "center"}},
        "y": {"field": "c", "type": "quantitative", "scale": {"domain": [0, 3], "nice": false, "zero": false},
              "axis": {"orient": "left", "values": [0,0.5,1,1.5,2,2.5,3], "format": "~g", "domain": false, "tickSize": 6, "labelFontSize": 21, "labelPadding": 9.5, "title": null}},
        "color": {"field": "s", "type": "nominal", "legend": null,
                  "scale": {"domain": ["a1e","a2e","a3e","a1m","a2m","a3m","b1e","b2e","b3e","b1m","b2m","b3m"], "range": ["#000080","#ff00ff","#000000","#000000","#000000","#8b0000","#800080","#ff00ff","#000000","#000000","#000000","#000000"]}}
      }
    },
    {
      "data": {"name": "rightModel"},
      "mark": {"type": "line", "strokeWidth": 4.2, "interpolate": "monotone"},
      "encoding": {
        "x": {"field": "t", "type": "quantitative", "scale": {"domain": [0, 500], "nice": false},
              "axis": {"orient": "bottom", "values": [0,20,40,60,80,100,120,140,160,180,200,220,240,260,280,300,320,340,360,380,400,420,440,460,480,500], "labels": false, "domain": false, "tickSize": 5, "title": null}},
        "y": {"field": "c", "type": "quantitative", "scale": {"domain": [0, 3], "nice": false, "zero": false},
              "axis": {"orient": "left", "values": [0,0.1,0.2,0.3,0.4,0.5,0.6,0.7,0.8,0.9,1,1.1,1.2,1.3,1.4,1.5,1.6,1.7,1.8,1.9,2,2.1,2.2,2.3,2.4,2.5,2.6,2.7,2.8,2.9,3], "labels": false, "domain": false, "tickSize": 4, "title": null}},
        "color": {"field": "s", "type": "nominal", "legend": null,
                  "scale": {"domain": ["a1e","a2e","a3e","a1m","a2m","a3m","b1e","b2e","b3e","b1m","b2m","b3m"], "range": ["#000080","#ff00ff","#000000","#000000","#000000","#8b0000","#800080","#ff00ff","#000000","#000000","#000000","#000000"]}}
      }
    },
    {
      "data": {"values": [{"a": 0, "b": 500, "y": 3, "y2": 3}, {"a": 500, "b": 500, "y": 0, "y2": 3}]},
      "mark": {"type": "rule", "color": "#8c8c8c", "strokeWidth": 1.5},
      "encoding": {
        "x": {"field": "a", "type": "quantitative", "scale": {"domain": [0, 500], "nice": false}, "axis": null},
        "x2": {"field": "b"},
        "y": {"field": "y", "type": "quantitative", "scale": {"domain": [0, 3], "nice": false, "zero": false}, "axis": null},
        "y2": {"field": "y2"}
      }
    },
    {
      "data": {"values": [{"a": 0, "b": 0, "y": 0, "y2": 3}]},
      "mark": {"type": "rule", "color": "black", "strokeWidth": 1.3},
      "encoding": {
        "x": {"field": "a", "type": "quantitative", "scale": {"domain": [0, 500], "nice": false}, "axis": null},
        "x2": {"field": "b"},
        "y": {"field": "y", "type": "quantitative", "scale": {"domain": [0, 3], "nice": false, "zero": false}, "axis": null},
        "y2": {"field": "y2"}
      }
    },
    {
      "data": {"values": [
        {"t": 62.1, "c": 2.785, "label": "Single Nozzle Sparger"},
        {"t": 62.1, "c": 2.51, "label": "Tray type # 5 ( 10. % O. A., do = 0.6 cm )"},
        {"t": 368.7, "c": 2.108, "label": "Experimental"},
        {"t": 368.7, "c": 1.843, "label": "Model fit"},
        {"t": 44.6, "c": 2.2, "label": "L1"},
        {"t": 44.6, "c": 1.047, "label": "L2"},
        {"t": 118.7, "c": 0.453, "label": "L3"},
        {"t": 320.4, "c": 0.535, "label": "Mixing time"}
      ]},
      "mark": {"type": "text", "align": "left", "baseline": "middle", "fontSize": 21.5, "font": "Liberation Sans", "color": "black"},
      "encoding": {
        "x": {"field": "t", "type": "quantitative", "scale": {"domain": [0, 500], "nice": false}, "axis": null},
        "y": {"field": "c", "type": "quantitative", "scale": {"domain": [0, 3], "nice": false, "zero": false}, "axis": null},
        "text": {"field": "label"}
      }
    },
    {
      "data": {"values": [{"t": 311, "t2": 351, "c": 2.154}]},
      "mark": {"type": "rule", "color": "black", "strokeWidth": 1.4},
      "encoding": {
        "x": {"field": "t", "type": "quantitative", "scale": {"domain": [0, 500], "nice": false}, "axis": null},
        "x2": {"field": "t2"},
        "y": {"field": "c", "type": "quantitative", "scale": {"domain": [0, 3], "nice": false, "zero": false}, "axis": null}
      }
    },
    {
      "data": {"values": [{"t": 311, "t2": 351, "c": 1.907}]},
      "mark": {"type": "rule", "color": "black", "strokeWidth": 5.5},
      "encoding": {
        "x": {"field": "t", "type": "quantitative", "scale": {"domain": [0, 500], "nice": false}, "axis": null},
        "x2": {"field": "t2"},
        "y": {"field": "c", "type": "quantitative", "scale": {"domain": [0, 3], "nice": false, "zero": false}, "axis": null}
      }
    },
    {
      "data": {"values": [{"t": 300, "lo": -0.02, "hi": 0.85}]},
      "mark": {"type": "rule", "color": "black", "strokeWidth": 3},
      "encoding": {
        "x": {"field": "t", "type": "quantitative", "scale": {"domain": [0, 500], "nice": false}, "axis": null},
        "y": {"field": "lo", "type": "quantitative", "scale": {"domain": [0, 3], "nice": false, "zero": false}, "axis": null},
        "y2": {"field": "hi"}
      }
    },
    {
      "data": {"values": [{"t": 300, "c": -0.035}]},
      "mark": {"type": "point", "shape": "M-1,-1.6L0,0L1,-1.6", "filled": false, "stroke": "black", "strokeWidth": 3, "size": 256, "opacity": 1},
      "encoding": {
        "x": {"field": "t", "type": "quantitative", "scale": {"domain": [0, 500], "nice": false}, "axis": null},
        "y": {"field": "c", "type": "quantitative", "scale": {"domain": [0, 3], "nice": false, "zero": false}, "axis": null}
      }
    },
    {
      "data": {"values": [{"t": 300, "c": 0.858}]},
      "mark": {"type": "point", "shape": "M-1,1.6L0,0L1,1.6", "filled": false, "stroke": "black", "strokeWidth": 3, "size": 256, "opacity": 1},
      "encoding": {
        "x": {"field": "t", "type": "quantitative", "scale": {"domain": [0, 500], "nice": false}, "axis": null},
        "y": {"field": "c", "type": "quantitative", "scale": {"domain": [0, 3], "nice": false, "zero": false}, "axis": null}
      }
    },
    {
      "data": {"values": [
        {"a": -703.3, "b": 528.2, "y": 3.279, "y2": 3.279},
        {"a": -703.3, "b": -703.3, "y": 3.279, "y2": -0.727},
        {"a": -142.6, "b": -142.6, "y": 3.279, "y2": 3.188},
        {"a": -142.6, "b": -142.6, "y": -0.599, "y2": -0.727}
      ]},
      "mark": {"type": "rule", "color": "black", "strokeWidth": 2.5},
      "encoding": {
        "x": {"field": "a", "type": "quantitative", "scale": {"domain": [0, 500], "nice": false}, "axis": null},
        "x2": {"field": "b"},
        "y": {"field": "y", "type": "quantitative", "scale": {"domain": [0, 3], "nice": false, "zero": false}, "axis": null},
        "y2": {"field": "y2"}
      }
    },
    {
      "data": {"values": [
        {"a": -677.6, "b": -56.9, "y": 3.188, "y2": 3.188},
        {"a": -677.6, "b": -56.9, "y": -0.599, "y2": -0.599},
        {"a": -677.6, "b": -677.6, "y": -0.599, "y2": 3.188},
        {"a": -56.9, "b": -56.9, "y": -0.599, "y2": 3.188},
        {"a": -56.9, "b": 519.7, "y": 3.188, "y2": 3.188},
        {"a": 519.7, "b": 519.7, "y": 3.188, "y2": -0.697},
        {"a": -117.6, "b": 519.7, "y": -0.697, "y2": -0.697},
        {"a": -117.6, "b": -117.6, "y": -0.599, "y2": -0.697}
      ]},
      "mark": {"type": "rule", "color": "#222222", "strokeWidth": 1.3},
      "encoding": {
        "x": {"field": "a", "type": "quantitative", "scale": {"domain": [0, 500], "nice": false}, "axis": null},
        "x2": {"field": "b"},
        "y": {"field": "y", "type": "quantitative", "scale": {"domain": [0, 3], "nice": false, "zero": false}, "axis": null},
        "y2": {"field": "y2"}
      }
    }
  ]
}
]
}
